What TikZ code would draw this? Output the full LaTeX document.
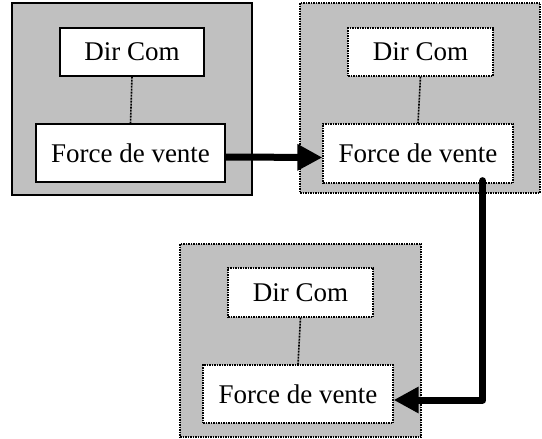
\documentclass[tikz,border=0pt]{standalone}
\usepackage{fontspec}
\setmainfont{Liberation Serif}
\usetikzlibrary{arrows.meta}
\definecolor{boxgray}{HTML}{C0C0C0}
\begin{document}
\begin{tikzpicture}[x=1pt,y=-1pt,
  dotline/.style={dash pattern=on 1.5pt off 1pt},
  outersolid/.style={draw=black,line width=1.2pt,fill=boxgray},
  outerdot/.style={draw=black,line width=1.3pt,dotline,fill=boxgray},
  inner/.style={draw=black,line width=1.2pt,fill=white,font=\fontsize{27}{29}\selectfont,inner sep=0pt},
  innerdot/.style={inner,line width=1.3pt,dotline},
  link/.style={line width=1.6pt,dash pattern=on 2pt off 1pt},
  bigarrow/.style={line width=7pt,-{Triangle[length=25pt,width=25pt]},line cap=round,line join=round}]
\useasboundingbox (0,0) rectangle (542,439);
% box 1
\node[outersolid,minimum width=240pt,minimum height=192pt,inner sep=0pt] (o1) at (132,99) {};
\node[inner,minimum width=144pt,minimum height=48pt] (d1) at (132,52) {Dir Com};
\node[inner,minimum width=189pt,minimum height=58pt] (f1) at (130.5,153) {Force de vente};
\draw[link] (d1.south) -- (f1.north);
% box 2
\node[outerdot,minimum width=240pt,minimum height=190pt,inner sep=0pt] (o2) at (420,98) {};
\node[innerdot,minimum width=145pt,minimum height=48pt] (d2) at (420.5,52) {Dir Com};
\node[innerdot,minimum width=190pt,minimum height=59pt] (f2) at (418,153.5) {Force de vente};
\draw[link] (d2.south) -- (f2.north);
% box 3
\node[outerdot,minimum width=241pt,minimum height=193pt,inner sep=0pt] (o3) at (300.5,340.5) {};
\node[innerdot,minimum width=145pt,minimum height=49pt] (d3) at (300.5,292.5) {Dir Com};
\node[innerdot,minimum width=190pt,minimum height=58pt] (f3) at (298,394) {Force de vente};
\draw[link] (d3.south) -- (f3.north);
% arrows
\draw[bigarrow,line cap=butt] ([yshift=-4pt]f1.east) -- ([yshift=-4pt]f2.west);
\coordinate (c2) at ([xshift=-31pt]f2.south east);
\draw[bigarrow] ([yshift=3pt]c2) |- ([yshift=-6pt]f3.east);
\end{tikzpicture}
\end{document}
